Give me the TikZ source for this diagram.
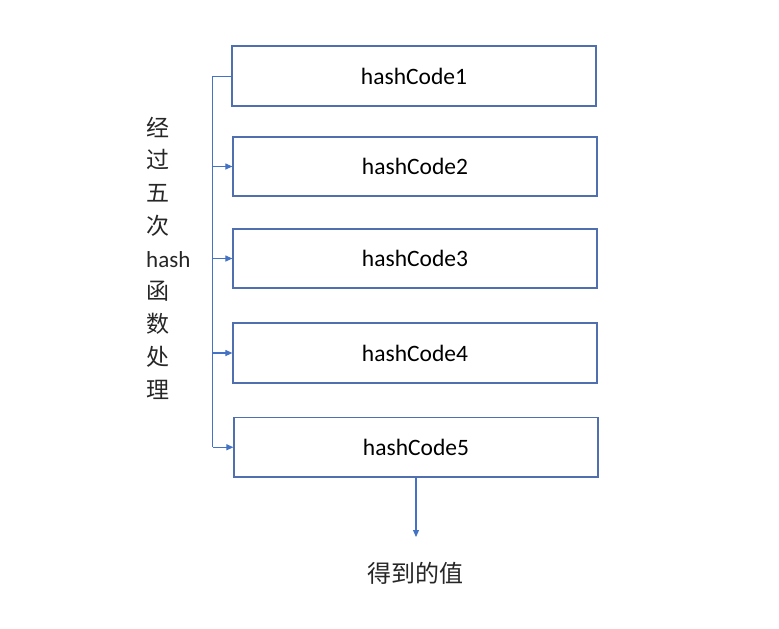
\documentclass[tikz,border=0pt]{standalone}
\usepackage{fontspec}
\setmainfont{Carlito}
\newfontfamily\cjk{Noto Sans CJK SC}
\usetikzlibrary{arrows.meta}
\definecolor{officeblue}{HTML}{4472C4}
\definecolor{boxblue}{HTML}{4F6FAF}
\tikzset{
  codebox/.style={draw=boxblue, line width=1.2pt, inner sep=0pt, font=\fontsize{23.5}{28}\selectfont},
  conn/.style={draw=officeblue, line width=1.1pt},
  arr/.style={conn, -{Triangle[length=7pt,width=6pt]}},
  vtxt/.style={anchor=base west, inner sep=0pt, font=\fontsize{23}{28}\selectfont, text=black!85}
}
\begin{document}
\begin{tikzpicture}[x=1pt,y=-1pt]
\useasboundingbox (0,0) rectangle (779,629);
% boxes
\node[codebox, minimum width=364pt, minimum height=60pt] (b1) at (414,76) {hashCode1};
\node[codebox, minimum width=364pt, minimum height=59pt] (b2) at (415,166.5) {hashCode2};
\node[codebox, minimum width=364pt, minimum height=59pt] (b3) at (415,258.5) {hashCode3};
\node[codebox, minimum width=364pt, minimum height=60pt] (b4) at (415,353) {hashCode4};
\node[codebox, minimum width=364pt, minimum height=59.5pt] (b5) at (416,447.25) {hashCode5};
% junction points
\coordinate (j1) at (212.5,76.5);
\coordinate (j2) at (212.5,166.5);
\coordinate (j3) at (212.5,258.5);
\coordinate (j4) at (212.5,353);
\coordinate (j5) at (212.5,447.25);
\coordinate (endp) at (416,537);
\draw[conn] (b1.west |- j1) -- (j1) -- (j5);
\draw[arr] (j2) -- (b2.west);
\draw[arr] (j3) -- (b3.west);
\draw[arr] (j4) -- (b4.west);
\draw[arr] (j5) -- (b5.west);
\draw[arr] (b5.south) -- (endp);
% result text
\node[inner sep=0pt, font=\fontsize{24}{28}\selectfont\cjk, text=black!85] (res) at (415,573) {得到的值};
% vertical text
\node[vtxt] (v1) at (146,136) {\cjk 经};
\node[vtxt] (v2) at (146,168.75) {\cjk 过};
\node[vtxt] (v3) at (146,201.5) {\cjk 五};
\node[vtxt] (v4) at (146,234.25) {\cjk 次};
\node[vtxt] (v5) at (146,267) {hash};
\node[vtxt] (v6) at (146,299.75) {\cjk 函};
\node[vtxt] (v7) at (146,332.5) {\cjk 数};
\node[vtxt] (v8) at (146,365.25) {\cjk 处};
\node[vtxt] (v9) at (146,398) {\cjk 理};
\end{tikzpicture}
\end{document}
